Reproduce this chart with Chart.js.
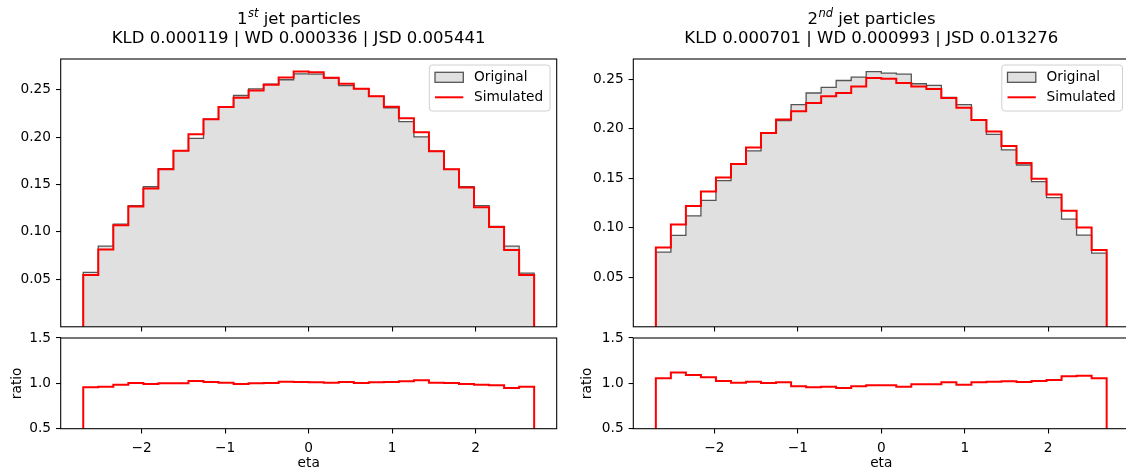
<!DOCTYPE html>
<html><head><meta charset="utf-8">
<script src="https://cdn.jsdelivr.net/npm/chart.js@4.4.1/dist/chart.umd.min.js"></script>
<style>
html,body{margin:0;padding:0;background:#fff;overflow:hidden;width:1126px;height:470px;position:relative;}
canvas{position:absolute;}
</style></head><body>
<canvas id="t1" width="590" height="340" style="left:0px;top:0px"></canvas>
<canvas id="r1" width="590" height="152" style="left:0px;top:320px"></canvas>
<canvas id="t2" width="560" height="340" style="left:572px;top:0px"></canvas>
<canvas id="r2" width="560" height="152" style="left:572px;top:320px"></canvas>
<script>
// ---- data ----
const binEdges = [-2.7,-2.52,-2.34,-2.16,-1.98,-1.8,-1.62,-1.44,-1.26,-1.08,-0.9,-0.72,-0.54,-0.36,-0.18,0,0.18,0.36,0.54,0.72,0.9,1.08,1.26,1.44,1.62,1.8,1.98,2.16,2.34,2.52,2.7];
const jet1Original = [0.0573,0.0851,0.1083,0.1278,0.1476,0.1667,0.1857,0.1986,0.2188,0.2316,0.2438,0.2507,0.2559,0.2604,0.2667,0.2663,0.2622,0.2542,0.2510,0.2430,0.2309,0.2163,0.2003,0.1851,0.1660,0.1476,0.1278,0.1059,0.0851,0.0566];
const jet1Simulated = [0.0545,0.0815,0.1070,0.1268,0.1458,0.1660,0.1857,0.2031,0.2188,0.2316,0.2414,0.2490,0.2552,0.2628,0.2691,0.2684,0.2625,0.2563,0.2510,0.2430,0.2320,0.2198,0.2052,0.1851,0.1660,0.1469,0.1260,0.1052,0.0809,0.0545];
const jet1Ratio = [0.956,0.962,0.985,1.004,0.993,1.0,1.0,1.026,1.015,1.007,0.993,1.0,1.004,1.019,1.015,1.011,1.007,1.015,1.004,1.011,1.015,1.022,1.033,1.007,1.004,0.993,0.985,0.978,0.948,0.963];
const jet2Original = [0.0753,0.0923,0.1120,0.1276,0.1476,0.1643,0.1776,0.1956,0.2080,0.2243,0.2360,0.2416,0.2486,0.2520,0.2576,0.2560,0.2550,0.2453,0.2436,0.2316,0.2243,0.2086,0.1943,0.1786,0.1633,0.1466,0.1303,0.1086,0.0926,0.0743];
const jet2Simulated = [0.0800,0.1033,0.1220,0.1366,0.1506,0.1643,0.1810,0.1956,0.2093,0.2176,0.2260,0.2326,0.2360,0.2426,0.2510,0.2503,0.2460,0.2426,0.2400,0.2310,0.2210,0.2086,0.1970,0.1826,0.1653,0.1493,0.1336,0.1170,0.1003,0.0776];
const jet2Ratio = [1.056,1.119,1.093,1.067,1.026,1.007,1.019,1.004,1.011,0.967,0.956,0.963,0.948,0.967,0.978,0.978,0.963,0.989,0.989,1.011,0.985,1.011,1.019,1.022,1.015,1.026,1.037,1.078,1.085,1.056];
const xTicks = [-2,-1,0,1,2];
const topYTicks = [0.05,0.10,0.15,0.20,0.25];
const ratioYTicks = [0.5,1.0,1.5];
const titles1 = {ord:'1', sup:'st', rest:' jet particles', metrics:'KLD 0.000119 | WD 0.000336 | JSD 0.005441'};
const titles2 = {ord:'2', sup:'nd', rest:' jet particles', metrics:'KLD 0.000701 | WD 0.000993 | JSD 0.013276'};
const legendLabels = ['Original','Simulated'];
const xLabel = 'eta', ratioLabel = 'ratio';

// ---- styles ----
const GRAY_FILL = '#e0e0e0', GRAY_EDGE = '#555555', RED = '#ff0000';
const FONT = '"DejaVu Sans"';
const FS = 13.7;
Chart.defaults.font.family = 'DejaVu Sans';
Chart.defaults.font.size = FS;
Chart.defaults.color = '#000';

function steps(edges, vals, base) {
  const pts = [{x: edges[0], y: base}];
  for (let i = 0; i < vals.length; i++) pts.push({x: edges[i], y: vals[i]});
  pts.push({x: edges[edges.length - 1], y: base});
  return pts;
}
const fmtX = v => (v < 0 ? '\u2212' : '') + Math.abs(v);

const framePlugin = { id: 'frame', afterDraw(c) {
  const a = c.chartArea, ctx = c.ctx; ctx.save();
  ctx.strokeStyle = '#000'; ctx.lineWidth = 1.07;
  ctx.strokeRect(a.left, a.top, a.right - a.left, a.bottom - a.top); ctx.restore(); } };

const titlePlugin = { id: 'jetTitle', afterDraw(c, args, o) {
  if (!o || !o.metrics) return;
  const ctx = c.ctx, a = c.chartArea, cx = (a.left + a.right) / 2 - 10;
  ctx.save(); ctx.fillStyle = '#000'; ctx.textBaseline = 'alphabetic'; ctx.textAlign = 'left';
  const big = '16.5px ' + FONT, small = 'italic 11.5px ' + FONT;
  ctx.font = big; const w1 = ctx.measureText(o.ord).width, w3 = ctx.measureText(o.rest).width;
  ctx.font = small; const w2 = ctx.measureText(o.sup).width;
  const x0 = cx - (w1 + w2 + w3) / 2;
  ctx.font = big; ctx.fillText(o.ord, x0, 24);
  ctx.font = small; ctx.fillText(o.sup, x0 + w1 + 0.5, 17);
  ctx.font = big; ctx.fillText(o.rest, x0 + w1 + w2 + 0.5, 24);
  ctx.textAlign = 'center'; ctx.fillText(o.metrics, cx, 43);
  ctx.restore(); } };

const legendPlugin = { id: 'histLegend', afterDraw(c, args, o) {
  if (!o || !o.show) return;
  const ctx = c.ctx, a = c.chartArea, w = 120.7, h = 46;
  const bx = a.right - 6.7 - w, by = a.top + 6;
  ctx.save();
  ctx.beginPath(); ctx.roundRect(bx, by, w, h, 3);
  ctx.fillStyle = 'rgba(255,255,255,0.8)'; ctx.fill();
  ctx.strokeStyle = '#d0d0d0'; ctx.lineWidth = 1; ctx.stroke();
  ctx.fillStyle = GRAY_FILL; ctx.fillRect(bx + 5.7, by + 7.3, 28.3, 10);
  ctx.strokeStyle = GRAY_EDGE; ctx.lineWidth = 1.3; ctx.strokeRect(bx + 5.7, by + 7.3, 28.3, 10);
  ctx.beginPath(); ctx.moveTo(bx + 5.7, by + 32.3); ctx.lineTo(bx + 34, by + 32.3);
  ctx.strokeStyle = RED; ctx.lineWidth = 2; ctx.stroke();
  ctx.fillStyle = '#000'; ctx.font = FS + 'px ' + FONT; ctx.textBaseline = 'middle'; ctx.textAlign = 'left';
  ctx.fillText(legendLabels[0], bx + 44.7, by + 12.3);
  ctx.fillText(legendLabels[1], bx + 44.7, by + 32.5);
  ctx.restore(); } };

const tickGrid = {display: true, drawOnChartArea: false, drawTicks: true, tickLength: 4.7, color: '#000', lineWidth: 1.07};

function topChart(id, orig, sim, ymax, yWidth, padRight, title) {
  return new Chart(document.getElementById(id), {
    type: 'line',
    data: {datasets: [
      {data: steps(binEdges, sim, 0), stepped: 'before', borderColor: RED, borderWidth: 2, pointRadius: 0, fill: false, order: 1, borderJoinStyle: 'miter'},
      {data: steps(binEdges, orig, 0), stepped: 'before', borderColor: GRAY_EDGE, borderWidth: 1.3, backgroundColor: GRAY_FILL, pointRadius: 0, fill: 'origin', order: 2, borderJoinStyle: 'miter'}
    ]},
    options: {
      responsive: false, animation: false, events: [],
      layout: {padding: {left: 0, top: 59, right: padRight, bottom: 0}},
      plugins: {legend: {display: false}, tooltip: {enabled: false}, jetTitle: title, histLegend: {show: true}},
      scales: {
        x: {type: 'linear', min: -2.97, max: 2.97,
            afterBuildTicks: s => { s.ticks = xTicks.map(v => ({value: v})); },
            afterFit: s => { s.height = 10; },
            ticks: {display: false}, grid: tickGrid, border: {display: false}},
        y: {type: 'linear', min: 0, max: ymax,
            afterBuildTicks: s => { s.ticks = topYTicks.map(v => ({value: v})); },
            afterFit: s => { s.width = yWidth; },
            ticks: {padding: 5, callback: v => Number(v).toFixed(2)}, grid: tickGrid, border: {display: false}}
      }
    },
    plugins: [titlePlugin, legendPlugin, framePlugin]
  });
}

function ratioChart(id, ratio, yWidth, padRight, titleTop) {
  return new Chart(document.getElementById(id), {
    type: 'line',
    data: {datasets: [
      {data: steps(binEdges, ratio, 0.5), stepped: 'before', borderColor: RED, borderWidth: 2, pointRadius: 0, fill: false, borderJoinStyle: 'miter'}
    ]},
    options: {
      responsive: false, animation: false, events: [],
      layout: {padding: {left: 0, top: 18, right: padRight, bottom: 0}},
      plugins: {legend: {display: false}, tooltip: {enabled: false}},
      scales: {
        x: {type: 'linear', min: -2.97, max: 2.97,
            afterBuildTicks: s => { s.ticks = xTicks.map(v => ({value: v})); },
            afterFit: s => { s.height = 43.3; },
            title: {display: true, text: xLabel, padding: {top: 0, bottom: 0}, font: {size: FS}},
            ticks: {padding: 6.5, callback: v => fmtX(v)}, grid: tickGrid, border: {display: false}},
        y: {type: 'linear', min: 0.5, max: 1.5,
            afterBuildTicks: s => { s.ticks = ratioYTicks.map(v => ({value: v})); },
            afterFit: s => { s.width = yWidth; },
            title: {display: true, text: ratioLabel, padding: {top: titleTop, bottom: 0}, font: {size: FS}},
            ticks: {padding: 5, callback: v => Number(v).toFixed(1)}, grid: tickGrid, border: {display: false}}
      }
    },
    plugins: [framePlugin]
  });
}

topChart('t1', jet1Original, jet1Simulated, 0.2823, 60.7, 590 - 556.7, titles1);
ratioChart('r1', jet1Ratio, 60.7, 590 - 556.7, 9.5);
topChart('t2', jet2Original, jet2Simulated, 0.2703, 61.3, 2.8, titles2);
ratioChart('r2', jet2Ratio, 61.3, 2.8, 7);
</script>
</body></html>
